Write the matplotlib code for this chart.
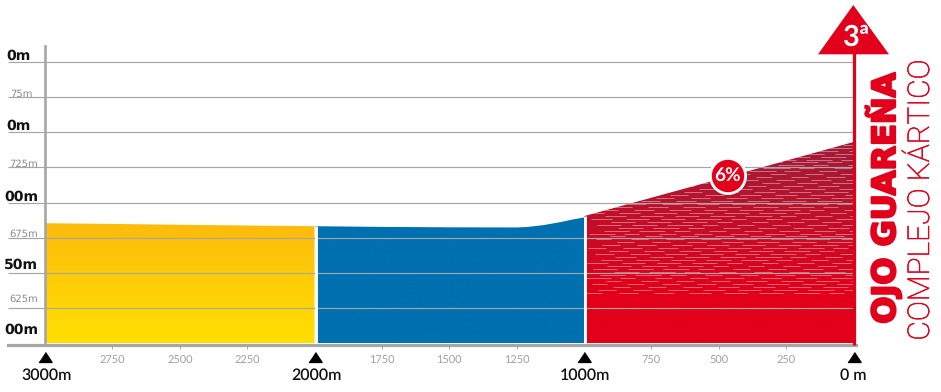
import numpy as np
import matplotlib
matplotlib.use('Agg')
import matplotlib.pyplot as plt
import matplotlib.patheffects as pe
from matplotlib.colors import LinearSegmentedColormap
from matplotlib.patches import Polygon, Circle

plt.rcParams['font.family'] = ['Lato', 'DejaVu Sans']
plt.rcParams['text.hinting'] = 'no_hinting'
plt.rcParams['text.hinting_factor'] = 1

# Perfil: distancia a meta (m) y altitud (m)
dist_amarillo = [3000, 2750, 2500, 2250, 2000]
alt_amarillo = [685.3, 684.8, 684.2, 683.7, 683.2]
dist_azul = [2000, 1750, 1500, 1250, 1213, 1152, 1090, 1040, 1000]
alt_azul = [683.2, 682.7, 682.4, 682.3, 682.6, 683.9, 686.0, 688.0, 689.4]
dist_rojo = [1000, 750, 500, 250, 0]
alt_rojo = [690.3, 703.4, 716.5, 729.7, 742.9]

rejilla = [800, 775, 750, 725, 700, 675, 650, 625]
alturas = [800, 775, 750, 725, 700, 675, 650, 625, 600]
# En el original las etiquetas estan cortadas por la izquierda, se ven asi
etiquetas_altura = ['0m', '75m', '0m', '725m', '00m', '675m', '50m', '625m', '00m']
marcas_menores = [2750, 2500, 2250, 1750, 1500, 1250, 750, 500, 250]
marcas_mayores = [3000, 2000, 1000, 0]
etiquetas_mayores = ['3000m', '2000m', '1000m', '0 m']
pendiente = '6%'
nombre = 'OJO GUAREÑA'
subtitulo = 'COMPLEJO KÁRTICO'
categoria = '3ª'

# Posicion de cada etiqueta de altitud: pixeles sobre su linea y borde derecho
sobre_linea = {800: 1.3, 775: 0, 750: 2.7, 725: 0, 700: 1.3, 675: 1.3, 650: 4.6, 625: 6, 600: 10}
borde = {800: 31, 775: 33, 750: 31, 725: 38, 700: 38, 675: 38, 650: 38, 625: 38, 600: 38}

ROJO = '#E2001A'
GRIS = '#A6A6A6'
W, H = 941, 392

fig = plt.figure(figsize=(W / 100, H / 100), dpi=100)
ax = fig.add_axes([45 / W, 1 - 343.5 / H, (853.5 - 45) / W, (343.5 - 46) / H])


def relleno(dist, alt, colores, y_arriba):
    # Degradado vertical recortado con la forma del perfil
    cmap = LinearSegmentedColormap.from_list('g', colores)
    grad = np.linspace(0, 1, 256).reshape(-1, 1)
    im = ax.imshow(grad, cmap=cmap, aspect='auto', origin='lower', zorder=1,
                   extent=[dist[0], dist[-1], 600, y_arriba])
    verts = [(dist[0], 600)] + list(zip(dist, alt)) + [(dist[-1], 600)]
    forma = Polygon(verts, closed=True, transform=ax.transData, fc='none', ec='none')
    ax.add_patch(forma)
    im.set_clip_path(forma)
    return forma


relleno(dist_amarillo, alt_amarillo, ['#FFE000', '#FDBB0D'], 685.3)
relleno(dist_azul, alt_azul, ['#0070B0', '#0070B0'], 690)
forma_roja = relleno(dist_rojo, alt_rojo, [ROJO, ROJO, '#CC0A25', '#B3152F', '#A01C3A'], 743)

# Rayas blancas de la textura de la rampa
paso = 2.1
for i, y in enumerate(np.arange(636, 743, paso)):
    desfase = (i * 53) % 130
    for x in np.arange(1000 - desfase, -100, -130):
        largo = 55 + (i * 7 + int(x)) % 45
        raya, = ax.plot([x, x - largo], [y, y], color='white', lw=0.5, alpha=0.55,
                        solid_capstyle='butt', zorder=2)
        raya.set_clip_path(forma_roja)

# Rejilla, se alarga hasta la izquierda de las etiquetas
ax.hlines(rejilla, 3137, 0, color=GRIS, lw=0.85, zorder=3, clip_on=False)

# Separadores blancos, un poco desplazados respecto a la escala como en el original
ax.vlines([1995, 995], 600, [683.2, 690.3], color='white', lw=2.1, zorder=4)

ax.set_xlim(3000, 0)
ax.set_ylim(600, 811)
ax.patch.set_alpha(0)

for lado in ['top', 'right']:
    ax.spines[lado].set_visible(False)
ax.spines['left'].set_color(GRIS)
ax.spines['left'].set_linewidth(1.9)
ax.spines['bottom'].set_color(GRIS)
ax.spines['bottom'].set_linewidth(2.3)
ax.spines['bottom'].set_position(('outward', 1.15))
ax.spines['bottom'].set_bounds(3137, -10)
ax.set_yticks([])
ax.set_xticks(marcas_menores)
ax.set_xticklabels([str(m) for m in marcas_menores], fontsize=7.8, color='#A0A0A0')
ax.tick_params(axis='x', length=3, width=0.7, color=GRIS, pad=5)

# Etiquetas de altitud
for h, e in zip(alturas, etiquetas_altura):
    fuerte = h % 50 == 0
    ax.annotate(e, xy=(0, h), xycoords=ax.get_yaxis_transform(),
                xytext=((borde[h] - 45) * 0.72, sobre_linea[h] * 0.72), textcoords='offset points',
                ha='right', va='baseline', annotation_clip=False, family='DejaVu Sans',
                fontsize=9.8 if fuerte else 7.4, fontweight='bold' if fuerte else 'normal',
                color='#111111' if fuerte else '#8C8C8C')

# Triangulos y distancias principales
tri = [(-1, -0.75), (1, -0.75), (0, 0.75)]
ax.plot(marcas_mayores, [590.1] * len(marcas_mayores), ls='none', marker=tri, ms=9.5,
        color='black', clip_on=False, zorder=5)
for m, e in zip(marcas_mayores, etiquetas_mayores):
    dx = 0 if m == 0 else 1.1
    ax.annotate(e, xy=(m, 600), xycoords='data', xytext=(dx, -22.7), textcoords='offset points',
                ha='center', va='center', fontsize=11.5, fontweight='semibold', color='#111111',
                annotation_clip=False)

# Capa en pixeles para la meta y los rotulos
capa = fig.add_axes([0, 0, 1, 1], zorder=10)
capa.set_xlim(0, W)
capa.set_ylim(H, 0)
capa.axis('off')
capa.plot([854.4, 854.4], [50, 345], color=ROJO, lw=2.3, solid_capstyle='butt')
capa.add_patch(Polygon([(853.3, 5), (818, 54.3), (889, 54.3)], closed=True, fc=ROJO, ec='none'))
capa.text(856, 37, categoria, color='white', fontsize=21, fontweight='bold', ha='center', va='center')

capa.add_patch(Circle((728, 176), 19, fc='white', ec='none'))
capa.add_patch(Circle((728, 176), 16.2, fc=ROJO, ec='none'))
capa.text(728, 176, pendiente, color='white', fontsize=14, fontweight='bold', ha='center', va='center')

capa.text(895, 198, nombre, color=ROJO, rotation=90, rotation_mode='anchor', fontsize=23,
          family='DejaVu Sans', fontweight='bold', ha='center', va='baseline',
          path_effects=[pe.withStroke(linewidth=1.6, foreground=ROJO)])
capa.text(929, 200, subtitulo, color=ROJO, rotation=90, rotation_mode='anchor', fontsize=21.6,
          family='Roboto', fontweight='light', ha='center', va='baseline',
          path_effects=[pe.withStroke(linewidth=0.4, foreground=ROJO)])

fig.savefig('out.png', dpi=100)
